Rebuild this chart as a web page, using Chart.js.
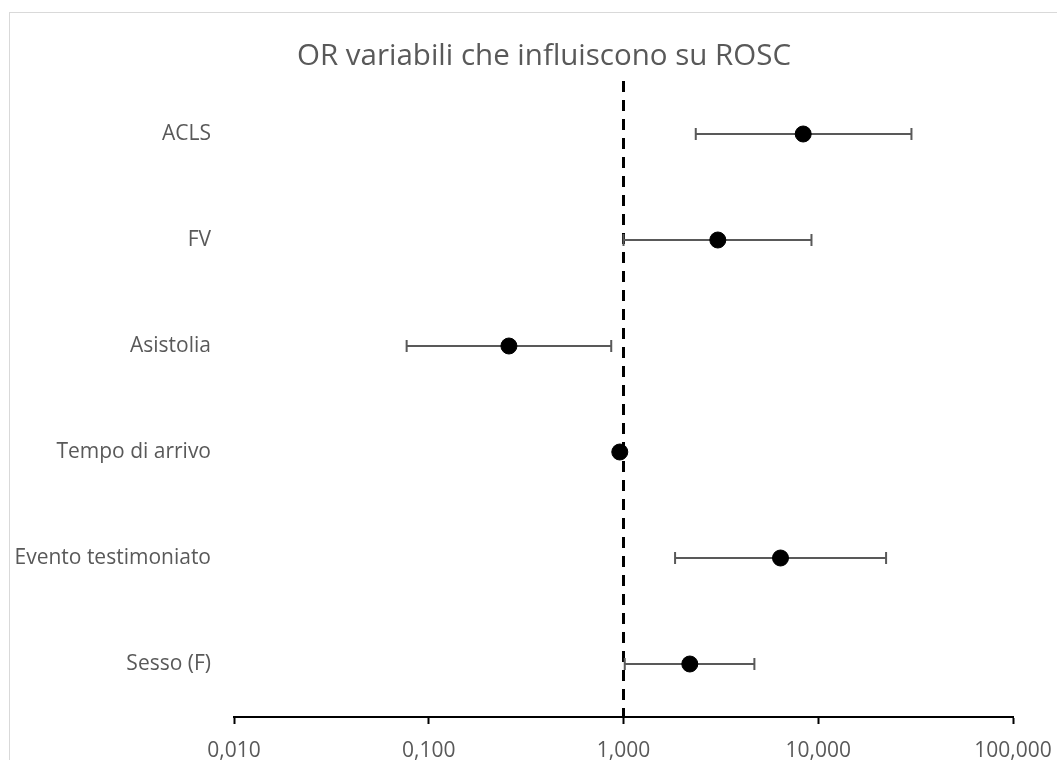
<!DOCTYPE html>
<html>
<head>
<meta charset="utf-8">
<script src="https://cdn.jsdelivr.net/npm/chart.js@4"></script>
<style>
  html, body { margin: 0; padding: 0; background: #fff; overflow: hidden; }
  #wrap {
    position: absolute; left: 9px; top: 12px;
    width: 1070px; height: 800px;
    border: 1px solid #d9d9d9;
  }
</style>
</head>
<body>
<div id="wrap"><canvas id="forest" width="1070" height="800"></canvas></div>
<script>
// Forest plot: OR con intervallo di confidenza, asse x logaritmico

const categories = ['ACLS', 'FV', 'Asistolia', 'Tempo di arrivo', 'Evento testimoniato', 'Sesso (F)'];
const oddsRatio  = [8.37, 3.05, 0.258, 0.957, 6.40, 2.19];
const ciLow      = [2.35, 1.00, 0.077, 0.93, 1.84, 1.015];
const ciHigh     = [30.1, 9.23, 0.865, 0.98, 22.3, 4.70];
const xTicks      = [0.01, 0.1, 1, 10, 100];
const xTickLabels = ['0,010', '0,100', '1,000', '10,000', '100,000'];
const refValue = 1;

const FONT = "'Open Sans', 'Noto Sans', sans-serif";
const GREY = '#595959';

// linea tratteggiata su OR = 1 e barre di errore
const forestPlugin = {
    id: 'forest',
    beforeDatasetsDraw(chart) {
        const { ctx, chartArea, scales } = chart;
        const xs = scales.x, ys = scales.y;

        ctx.save();
        // riferimento OR = 1
        const xr = xs.getPixelForValue(refValue);
        ctx.strokeStyle = '#000';
        ctx.lineWidth = 3;
        ctx.setLineDash([11, 8]);
        ctx.beginPath();
        ctx.moveTo(xr, chartArea.top);
        ctx.lineTo(xr, chartArea.bottom);
        ctx.stroke();
        ctx.setLineDash([]);

        // intervalli di confidenza
        ctx.strokeStyle = GREY;
        ctx.lineWidth = 2;
        categories.forEach((c, i) => {
            const y = ys.getPixelForValue(i);
            const x1 = xs.getPixelForValue(ciLow[i]);
            const x2 = xs.getPixelForValue(ciHigh[i]);
            ctx.beginPath();
            ctx.moveTo(x1, y); ctx.lineTo(x2, y);
            ctx.moveTo(x1, y - 6); ctx.lineTo(x1, y + 6);
            ctx.moveTo(x2, y - 6); ctx.lineTo(x2, y + 6);
            ctx.stroke();
        });
        ctx.restore();
    }
};

new Chart(document.getElementById('forest'), {
    type: 'scatter',
    data: {
        datasets: [{
            data: categories.map((c, i) => ({ x: oddsRatio[i], y: c })),
            backgroundColor: '#000',
            borderColor: '#000',
            pointRadius: 8,
            pointHoverRadius: 8
        }]
    },
    options: {
        responsive: false,
        animation: false,
        layout: { padding: { left: 0, right: 2, top: 0, bottom: 0 } },
        plugins: {
            legend: { display: false },
            tooltip: { enabled: false },
            title: {
                display: true,
                text: 'OR variabili che influiscono su ROSC',
                color: GREY,
                font: { family: FONT, size: 29.5, weight: 'normal' },
                padding: { top: 26, bottom: 6.6 }
            }
        },
        scales: {
            x: {
                type: 'logarithmic',
                min: 0.01,
                max: 100,
                afterBuildTicks(scale) {
                    scale.ticks = xTicks.map(v => ({ value: v }));
                },
                afterFit(scale) { scale.height = 96; },
                border: { display: true, color: '#000', width: 2 },
                grid: {
                    drawOnChartArea: false,
                    drawTicks: true,
                    tickLength: 7,
                    tickColor: '#000',
                    tickWidth: 2
                },
                ticks: {
                    color: GREY,
                    font: { family: FONT, size: 21 },
                    padding: 14,
                    maxRotation: 0,
                    autoSkip: false,
                    callback(val) {
                        const k = xTicks.indexOf(val);
                        return k >= 0 ? xTickLabels[k] : '';
                    }
                }
            },
            y: {
                type: 'category',
                labels: categories,
                offset: true,
                afterFit(scale) { scale.width = 224; },
                border: { display: false },
                grid: { display: false, drawTicks: false },
                ticks: {
                    color: GREY,
                    font: { family: FONT, size: 21 },
                    padding: 23
                }
            },
            // asse vuoto a destra: spazio libero come nell'originale
            yRight: {
                type: 'linear',
                position: 'right',
                afterFit(scale) { scale.width = 65; },
                border: { display: false },
                grid: { display: false, drawTicks: false },
                ticks: { display: false }
            }
        }
    },
    plugins: [forestPlugin]
});
</script>
</body>
</html>
